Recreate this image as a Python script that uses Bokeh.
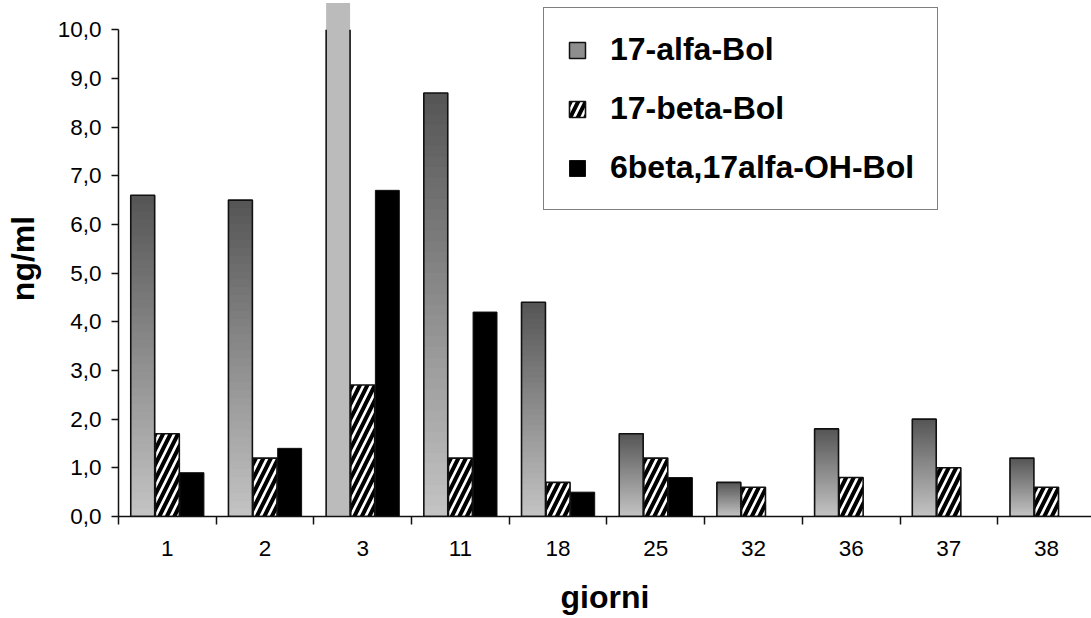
from bokeh.plotting import figure
from bokeh.models import (Range1d, FixedTicker, CustomJSTickFormatter, ColumnDataSource,
                          Legend, LegendItem)
from bokeh.embed import file_html
from bokeh.resources import INLINE

# ---- data ----
days = ["1", "2", "3", "11", "18", "25", "32", "36", "37", "38"]
alfa_bol = [6.6, 6.5, 10.55, 8.7, 4.4, 1.7, 0.7, 1.8, 2.0, 1.2]   # day 3 is off-scale (clipped)
beta_bol = [1.7, 1.2, 2.7, 1.2, 0.7, 1.2, 0.6, 0.8, 1.0, 0.6]
oh_bol = [0.9, 1.4, 6.7, 4.2, 0.5, 0.8, 0.0, 0.0, 0.0, 0.0]
y_ticks = [0, 1, 2, 3, 4, 5, 6, 7, 8, 9, 10]

Y_MAX_AXIS = 10.0
FONT = "Liberation Sans"

n = len(days)
centers = [i + 0.5 for i in range(n)]
W = 0.245
OFF = 0.252

p = figure(width=1091, height=618, output_backend="svg", toolbar_location=None,
           x_range=Range1d(0, 9.96), y_range=Range1d(0, 10.6),
           min_border_left=118, min_border_right=0, min_border_top=0, min_border_bottom=102)
p.outline_line_color = None
p.xgrid.visible = False
p.ygrid.visible = False
p.background_fill_color = "white"
p.border_fill_color = "white"


def mix(c1, c2, t):
    return "#%02x%02x%02x" % tuple(int(round(a + (b - a) * t)) for a, b in zip(c1, c2))


DARK = (0x55, 0x55, 0x55)
LIGHT = (0xc4, 0xc4, 0xc4)
NSL = 40

# ---- 17-alfa-Bol: gradient bars (top dark, bottom light), overlapping slices ----
gx, gb, gt, gc = [], [], [], []
clip_x, clip_top = [], []
for k in range(NSL):
    for i, v in enumerate(alfa_bol):
        if v > Y_MAX_AXIS:
            continue
        gx.append(centers[i] - OFF)
        gb.append(v * k / NSL)
        gt.append(v)
        gc.append(mix(LIGHT, DARK, (k + 0.5) / NSL))
for i, v in enumerate(alfa_bol):
    if v > Y_MAX_AXIS:
        clip_x.append(centers[i] - OFF)
        clip_top.append(v)
p.vbar(x=gx, bottom=gb, top=gt, width=W, fill_color=gc, line_color=None)
ax_ok = [centers[i] - OFF for i, v in enumerate(alfa_bol) if v <= Y_MAX_AXIS]
av_ok = [v for v in alfa_bol if v <= Y_MAX_AXIS]
p.vbar(x=ax_ok, top=av_ok, width=W, fill_color=None, line_color="#111111", line_width=1.6)
# off-scale bar (day 3)
p.vbar(x=clip_x, top=clip_top, width=W, fill_color="#bbbbbb", line_color=None)
sx = [x - W / 2 for x in clip_x] + [x + W / 2 for x in clip_x]
p.segment(x0=sx, y0=[0] * len(sx), x1=sx, y1=[Y_MAX_AXIS] * len(sx), line_color="#111111", line_width=1.6)

# legend-only renderer for the gradient series (hidden in the plot)
r_alfa_leg = p.vbar(x=ax_ok, top=av_ok, width=W, fill_color="#8e8e8e",
                    line_color="#111111", line_width=1.5, visible=False)

# ---- 17-beta-Bol: hatched ----
bsrc = ColumnDataSource(dict(x=list(centers), top=beta_bol))
r_beta = p.vbar(x="x", top="top", source=bsrc, width=W, fill_color="white",
                hatch_pattern="/", hatch_color="black", hatch_scale=15, hatch_weight=4,
                line_color="#111111", line_width=1.6)

# ---- 6beta,17alfa-OH-Bol: black ----
ox = [centers[i] + OFF for i, v in enumerate(oh_bol) if v > 0]
ov = [v for v in oh_bol if v > 0]
r_oh = p.vbar(x=ox, top=ov, width=W, fill_color="black", line_color="#111111", line_width=1)

# ---- axes ----
yax = p.yaxis[0]
yax.ticker = FixedTicker(ticks=y_ticks)
yax.formatter = CustomJSTickFormatter(code="return tick.toFixed(1).replace('.', ',');")
yax.bounds = (0, Y_MAX_AXIS)
yax.axis_line_color = "#111111"
yax.axis_line_width = 1.5
yax.major_tick_in = 0
yax.major_tick_out = 7
yax.major_tick_line_color = "#111111"
yax.major_tick_line_width = 1.5
yax.minor_tick_line_color = None
yax.major_label_standoff = 10
yax.major_label_text_font = FONT
yax.major_label_text_font_size = "22.5px"
yax.major_label_text_color = "black"
yax.axis_label = "ng/ml"
yax.axis_label_text_font = FONT
yax.axis_label_text_font_size = "32px"
yax.axis_label_text_font_style = "bold"
yax.axis_label_text_color = "black"
yax.axis_label_standoff = 14

xax = p.xaxis[0]
xax.ticker = FixedTicker(ticks=centers, minor_ticks=list(range(n + 1)))
xax.major_label_overrides = {c: d for c, d in zip(centers, days)}
xax.axis_line_color = "#111111"
xax.axis_line_width = 1.5
xax.major_tick_line_color = None
xax.minor_tick_in = 0
xax.minor_tick_out = 8
xax.minor_tick_line_color = "#111111"
xax.minor_tick_line_width = 1.5
xax.major_label_standoff = 16
xax.major_label_text_font = FONT
xax.major_label_text_font_size = "22.5px"
xax.major_label_text_color = "black"
xax.axis_label = "giorni"
xax.axis_label_text_font = FONT
xax.axis_label_text_font_size = "32px"
xax.axis_label_text_font_style = "bold"
xax.axis_label_text_color = "black"
xax.axis_label_standoff = 20

# ---- legend ----
legend = Legend(items=[LegendItem(label="17-alfa-Bol", renderers=[r_alfa_leg]),
                       LegendItem(label="17-beta-Bol", renderers=[r_beta]),
                       LegendItem(label="6beta,17alfa-OH-Bol", renderers=[r_oh])],
                location=(425, 306), orientation="vertical",
                glyph_width=20, glyph_height=20, label_standoff=23,
                spacing=22, padding=23, margin=0,
                label_text_font=FONT, label_text_font_size="32px", label_text_font_style="bold",
                label_text_color="black",
                inactive_fill_alpha=0.0,
                border_line_color="black", border_line_width=1.5,
                background_fill_color="white", background_fill_alpha=1.0)
p.add_layout(legend, "center")

open("out.html", "w").write(file_html(p, INLINE))
